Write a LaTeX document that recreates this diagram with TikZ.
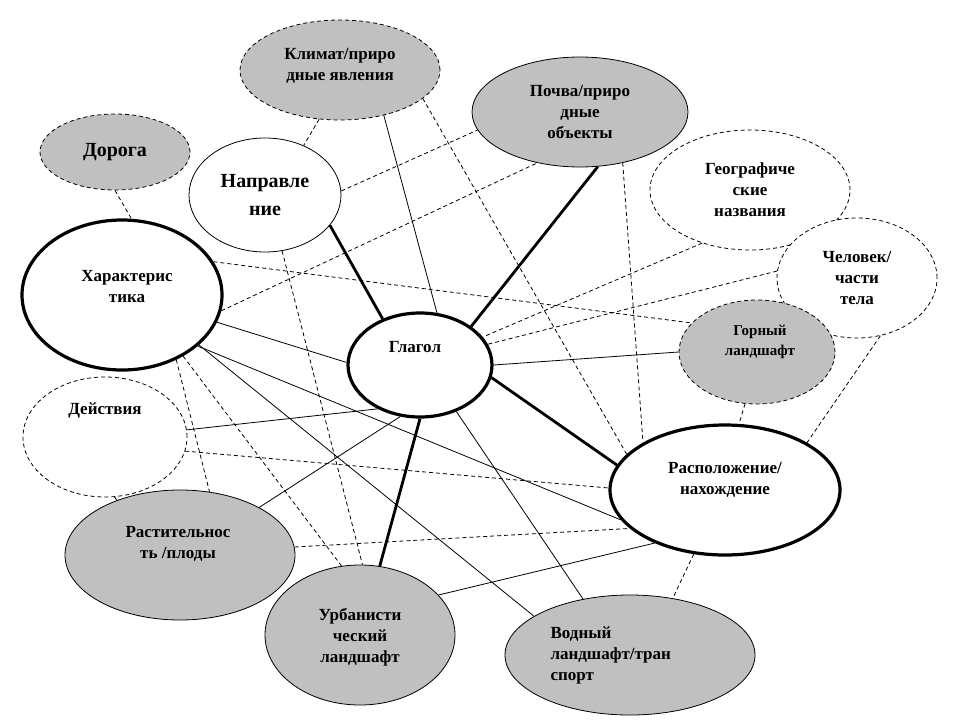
\documentclass[tikz,border=0pt]{standalone}
\usepackage{fontspec}
\setmainfont{Liberation Serif}
\usetikzlibrary{shapes.geometric}
\tikzset{
 ell/.style={ellipse,draw,inner sep=0pt,line width=0.8pt},
 gr/.style={fill=gray!50!white!110},
 bold/.style={line width=3.2pt},
 dsh/.style={dashed,dash pattern=on 4pt off 3pt},
 lab/.style={align=center,font=\bfseries\fontsize{17}{21}\selectfont},
 thk/.style={line width=2.8pt},
 thn/.style={line width=0.8pt},
 dl/.style={line width=0.8pt,dashed,dash pattern=on 4pt off 3pt}
}
\definecolor{gfill}{RGB}{192,192,192}
\begin{document}
\begin{tikzpicture}[x=1pt,y=-1pt]
\useasboundingbox[fill=white] (0,0) rectangle (960,720);
\def\E#1#2#3#4#5{\node[ell,#5,minimum width=#3pt,minimum height=#4pt] (#1) at (#2) {};}
\E{K}{340,70}{200}{100}{fill=gfill,dsh}
\E{P}{580,112}{216}{110}{fill=gfill}
\E{D}{115,152}{150}{76}{fill=gfill,dsh}
\E{N}{265,195}{152}{114}{fill=white}
\E{G}{750,190}{200}{120}{fill=white,dsh}
\E{C}{857,278}{160}{120}{fill=white,dsh}
\E{H}{122,295}{200}{150}{fill=white,bold}
\E{V}{420,365}{144}{104}{fill=white,bold}
\E{M}{757,352}{156}{104}{fill=gfill,dsh}
\E{A}{105,437}{164}{120}{fill=white,dsh}
\E{R}{725,490}{230}{130}{fill=white,bold}
\E{F}{180,555}{230}{130}{fill=gfill}
\E{U}{360,635}{190}{140}{fill=gfill}
\E{W}{630,655}{250}{120}{fill=gfill}
% connectors
\begin{scope}[on background layer/.try]
\end{scope}
\draw[dl] (H.20) -- (M.156);
\draw[dl] (H.-9) -- (P.230);
\draw[thn] (H.-16) -- (V.178);
\draw[thn] (H.-34) -- (R.196);
\draw[thn] (H.-33) -- (W.158);
\draw[dl] (H.-50) -- (F.65);
\draw[dl] (H.-45) -- (U.105);
\draw[dl] (N.-73) -- (U.88);
\draw[thn] (A.5) -- (V.226);
\draw[dl] (A.-10) -- (R.179);
\draw[dl] (A.-81) -- (F.139);
\draw[thn] (F.31) -- (V.249);
\draw[dl] (F.4) -- (R.202);
\draw[thk] (V.270) -- (U.74);
\draw[thn] (V.-52) -- (W.130);
\draw[thn] (U.27) -- (R.217);
\draw[dl] (R.244) -- (W.53);
\draw[dl] (M.257) -- (R.78);
\draw[dl] (C.-68) -- (R.30);
\draw[dl] (G.228) -- (V.24);
\draw[dl] (C.175) -- (V.17);
\draw[dl] (P.-50) -- (R.150);
\draw[dl] (K.-19) -- (R.160);
\draw[dl] (N.3) -- (P.190);
\draw[thn] (K.-46) -- (V.72);
\draw[dl] (K.247) -- (N.52);
\draw[dl] (D.-90) -- (H.83);
\draw[thk] (N.-25) -- (V.129);
\draw[thk] (P.-72) -- (V.37);
\draw[thn] (V.0) -- (M.180);
\draw[thk] (V.-10) -- (R.167);
% labels
\node[lab] (tK) at (340,66) {Климат/приро\\дные явления};
\node[lab] (tP) at (580,112) {Почва/приро\\дные\\объекты};
\node[lab,font=\bfseries\fontsize{20}{24}\selectfont] (tD) at (115,152) {Дорога};
\node[lab,font=\bfseries\fontsize{20}{28}\selectfont] (tN) at (265,195) {Направле\\ние};
\node[lab] (tG) at (750,190) {Географиче\\ские\\названия};
\node[lab] (tC) at (857,278) {Человек/\\части\\тела};
\node[lab] (tH) at (127,287) {Характерис\\тика};
\node[lab] (tV) at (415,347) {Глагол};
\node[lab,font=\bfseries\fontsize{15}{20}\selectfont] (tM) at (760,342) {Горный\\ландшафт};
\node[lab] (tA) at (105,410) {Действия};
\node[lab] (tR) at (725,480) {Расположение/\\нахождение};
\node[lab] (tF) at (178,544) {Растительнос\\ть /плоды};
\node[lab] (tU) at (360,637) {Урбанисти\\ческий\\ландшафт};
\node[lab,align=left,anchor=west] (tW) at (547,655) {Водный\\ландшафт/тран\\спорт};
\end{tikzpicture}
\end{document}
